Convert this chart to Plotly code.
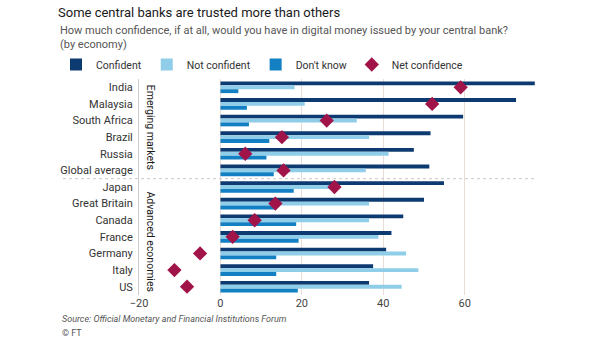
import plotly.graph_objects as go

categories = ["India", "Malaysia", "South Africa", "Brazil", "Russia", "Global average",
              "Japan", "Great Britain", "Canada", "France", "Germany", "Italy", "US"]
confident = [77.2, 72.6, 59.6, 51.6, 47.5, 51.3, 54.9, 50.0, 44.9, 42.0, 40.7, 37.5, 36.5]
not_confident = [18.2, 20.7, 33.5, 36.5, 41.3, 35.7, 27.1, 36.5, 36.5, 38.8, 45.6, 48.6, 44.5]
dont_know = [4.4, 6.5, 7.0, 12.0, 11.3, 13.1, 18.0, 13.6, 18.6, 19.2, 13.7, 13.7, 19.0]
net_confidence = [59.0, 52.0, 26.1, 15.1, 6.1, 15.5, 28.0, 13.5, 8.4, 3.0, -5.0, -11.3, -8.2]
x_ticks = [-20, 0, 20, 40, 60]

FONT = "Roboto"
W, H = 605, 341
L, R, T, B = 139, 69, 79, 46
PW, PH = W - L - R, H - T - B


def px_x(p):
    return (p - L) / PW


def px_y(p):
    return (H - B - p) / PH


fig = go.Figure()
fig.add_trace(go.Bar(y=categories, x=confident, orientation="h", name="Confident",
                     marker=dict(color="#0d3a70", line_width=0)))
fig.add_trace(go.Bar(y=categories, x=not_confident, orientation="h", name="Not confident",
                     marker=dict(color="#8fcde9", line_width=0)))
fig.add_trace(go.Bar(y=categories, x=dont_know, orientation="h", name="Don't know",
                     marker=dict(color="#1380c3", line_width=0)))
fig.add_trace(go.Scatter(y=categories, x=net_confidence, mode="markers", name="Net confidence",
                         marker=dict(symbol="diamond", size=11, color="#a0144a", line_width=0)))

fig.update_layout(
    width=W, height=H,
    margin=dict(l=L, r=R, t=T, b=B, autoexpand=False),
    paper_bgcolor="white", plot_bgcolor="white",
    barmode="group", bargap=0.3, bargroupgap=0,
    font=dict(family=FONT, color="#333333", size=11),
    title=dict(text="Some central banks are trusted more than others",
               x=58 / W, xref="container", xanchor="left",
               y=1 - 12 / H, yref="container", yanchor="middle",
               font=dict(family=FONT, size=13, color="#1a1a1a")),
    showlegend=True,
    legend=dict(orientation="h", x=px_x(56), xref="paper", xanchor="left",
                y=px_y(50), yref="paper", yanchor="top",
                font=dict(size=10.5, color="#333333"), itemwidth=30,
                traceorder="normal", bgcolor="rgba(0,0,0,0)",
                borderwidth=0),
    xaxis=dict(range=[-20, 77.5], tickvals=x_ticks, showgrid=True, gridcolor="#eadcd6",
               gridwidth=1, zeroline=False, ticks="", tickfont=dict(size=11, color="#444444"),
               fixedrange=True),
    yaxis=dict(range=[len(categories) - 0.5, -0.5], showgrid=False, zeroline=False, ticks="",
               showline=True, linecolor="#cccccc", linewidth=1,
               tickfont=dict(size=11, color="#333333"), ticklabelstandoff=3),
)

fig.add_annotation(text="How much confidence, if at all, would you have in digital money issued by your central bank?<br>(by economy)",
                   xref="paper", yref="paper", x=px_x(58), y=px_y(22),
                   xanchor="left", yanchor="top", align="left", showarrow=False,
                   font=dict(size=11, color="#555555"))

fig.add_annotation(text="Emerging markets", x=-17.2, y=2.4, xref="x", yref="y",
                   textangle=90, showarrow=False, font=dict(size=10.5, color="#1a1a1a"))
fig.add_annotation(text="Advanced economies", x=-17.2, y=9.3, xref="x", yref="y",
                   textangle=90, showarrow=False, font=dict(size=10.5, color="#1a1a1a"))

fig.add_shape(type="line", xref="paper", yref="y", x0=px_x(63), x1=1.0,
              y0=5.5, y1=5.5, line=dict(color="#c8c8c8", width=1, dash="3px,3px"))

fig.add_annotation(text="<i>Source: Official Monetary and Financial Institutions Forum</i>",
                   xref="paper", yref="paper", x=px_x(60), y=px_y(319),
                   xanchor="left", yanchor="middle", showarrow=False,
                   font=dict(size=9, color="#555555"))
fig.add_annotation(text="© FT", xref="paper", yref="paper", x=px_x(60),
                   y=px_y(333), xanchor="left", yanchor="middle", showarrow=False,
                   font=dict(size=9, color="#555555"))

fig.write_html("out.html")
